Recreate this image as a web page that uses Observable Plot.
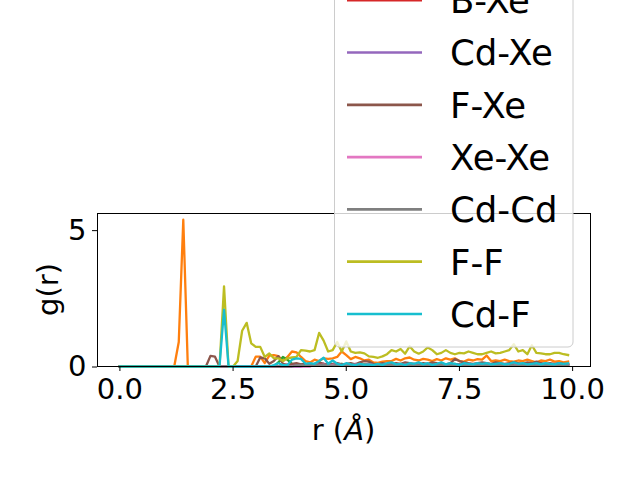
<!DOCTYPE html>
<html>
<head>
<meta charset="utf-8">
<script src="https://cdn.jsdelivr.net/npm/d3@7"></script>
<script src="https://cdn.jsdelivr.net/npm/@observablehq/plot@0.6"></script>
<style>
  html, body { margin: 0; padding: 0; background: #fff; }
  #wrap { position: relative; width: 640px; height: 480px; overflow: hidden; font-family: "DejaVu Sans", sans-serif; }
  #wrap svg { position: absolute; left: 0; top: 0; }
</style>
</head>
<body>
<div id="wrap"></div>
<script>
// ---- data ----
const labels = ["B-B", "B-F", "B-Cd", "B-Xe", "Cd-Xe", "F-Xe", "Xe-Xe", "Cd-Cd", "F-F", "Cd-F"];
const colors = ["#1f77b4", "#ff7f0e", "#2ca02c", "#d62728", "#9467bd", "#8c564b", "#e377c2", "#7f7f7f", "#bcbd22", "#17becf"];
const xTicks = [0, 2.5, 5, 7.5, 10];
const yTicks = [0, 5];

const r = [
  0.0,0.1,0.2,0.3,0.4,0.5,0.6,0.7,0.8,0.9,
  1.0,1.1,1.2,1.3,1.4,1.5,1.6,1.7,1.8,1.9,
  2.0,2.1,2.2,2.3,2.4,2.5,2.6,2.7,2.8,2.9,
  3.0,3.1,3.2,3.3,3.4,3.5,3.6,3.7,3.8,3.9,
  4.0,4.1,4.2,4.3,4.4,4.5,4.6,4.7,4.8,4.9,
  5.0,5.1,5.2,5.3,5.4,5.5,5.6,5.7,5.8,5.9,
  6.0,6.1,6.2,6.3,6.4,6.5,6.6,6.7,6.8,6.9,
  7.0,7.1,7.2,7.3,7.4,7.5,7.6,7.7,7.8,7.9,
  8.0,8.1,8.2,8.3,8.4,8.5,8.6,8.7,8.8,8.9,
  9.0,9.1,9.2,9.3,9.4,9.5,9.6,9.7,9.8,9.9
];

const gBB = [
  0,0,0,0,0,0,0,0,0,0,
  0,0,0,0,0,0,0,0,0,0,
  0,0,0,0,0,0,0,0,0,0,
  0,0,0,0,0,0,0,0,0,0,
  0,0.04,0.06,0.03,0.05,0.07,0.04,0.05,0.03,0.06,
  0.05,0.04,0.06,0.03,0.05,0.04,0.06,0.05,0.04,0.03,
  0.05,0.06,0.04,0.05,0.03,0.06,0.05,0.04,0.05,0.06,
  0.04,0.05,0.03,0.06,0.05,0.04,0.05,0.06,0.04,0.05,
  0.06,0.04,0.05,0.03,0.05,0.06,0.04,0.05,0.04,0.06,
  0.05,0.04,0.06,0.05,0.04,0.05,0.03,0.05,0.04,0.05
];
const gBF = [
  0,0,0,0,0,0,0,0,0,0,
  0,0,0,0.9,5.38,0,0,0,0,0,
  0,0,0,0,0,0,0,0,0,0,
  0.36,0.36,0.13,0.4,0.42,0.38,0.2,0.35,0.55,0.52,
  0.35,0.2,0.15,0.25,0.2,0.3,0.28,0.3,0.35,0.55,
  0.42,0.27,0.35,0.3,0.22,0.25,0.15,0.13,0.18,0.2,
  0.2,0.28,0.22,0.3,0.33,0.25,0.22,0.28,0.25,0.2,
  0.27,0.22,0.3,0.25,0.3,0.2,0.18,0.25,0.22,0.27,
  0.25,0.4,0.2,0.22,0.2,0.25,0.2,0.18,0.22,0.2,
  0.25,0.2,0.15,0.22,0.2,0.25,0.18,0.2,0.15,0.18
];
const gBCd = [
  0,0,0,0,0,0,0,0,0,0,
  0,0,0,0,0,0,0,0,0,0,
  0,0,0,0,0,0,0,0,0,0,
  0,0,0,0,0,0.15,0.35,0.25,0.1,0.05,
  0.08,0.05,0.1,0.06,0.08,0.05,0.1,0.08,0.06,0.1,
  0.07,0.05,0.09,0.06,0.08,0.1,0.05,0.07,0.09,0.06,
  0.08,0.1,0.06,0.07,0.09,0.05,0.08,0.1,0.07,0.06,
  0.09,0.07,0.05,0.08,0.1,0.06,0.08,0.07,0.09,0.06,
  0.08,0.06,0.09,0.07,0.05,0.08,0.1,0.07,0.06,0.08,
  0.07,0.09,0.06,0.08,0.07,0.05,0.08,0.06,0.09,0.07
];
const gBXe = [
  0,0,0,0,0,0,0,0,0,0,
  0,0,0,0,0,0,0,0,0,0,
  0,0,0,0,0,0,0,0,0,0,
  0,0,0,0,0,0,0,0,0.05,0.08,
  0.06,0.04,0.08,0.05,0.07,0.1,0.06,0.05,0.08,0.06,
  0.07,0.05,0.08,0.06,0.04,0.07,0.09,0.06,0.05,0.07,
  0.06,0.08,0.05,0.07,0.06,0.04,0.07,0.08,0.06,0.05,
  0.07,0.06,0.08,0.05,0.06,0.07,0.05,0.08,0.06,0.07,
  0.05,0.07,0.06,0.08,0.06,0.05,0.07,0.06,0.08,0.05,
  0.06,0.07,0.05,0.06,0.08,0.06,0.07,0.05,0.06,0.07
];
const gCdXe = [
  0,0,0,0,0,0,0,0,0,0,
  0,0,0,0,0,0,0,0,0,0,
  0,0,0,0,0,0,0,0,0,0,
  0,0,0,0,0,0,0.05,0.08,0.06,0.1,
  0.07,0.05,0.09,0.06,0.08,0.1,0.07,0.06,0.09,0.07,
  0.08,0.06,0.1,0.07,0.05,0.08,0.07,0.09,0.06,0.08,
  0.07,0.09,0.06,0.08,0.07,0.1,0.06,0.08,0.07,0.09,
  0.06,0.08,0.07,0.09,0.06,0.08,0.07,0.06,0.09,0.07,
  0.08,0.06,0.07,0.09,0.08,0.06,0.07,0.08,0.06,0.09,
  0.07,0.08,0.06,0.07,0.09,0.07,0.06,0.08,0.07,0.06
];
const gFXe = [
  0,0,0,0,0,0,0,0,0,0,
  0,0,0,0,0,0,0,0,0,0,
  0.39,0.36,0,0,0,0,0,0,0,0,
  0,0.33,0.3,0.1,0.2,0.38,0.1,0.05,0.1,0.12,
  0.08,0.1,0.05,0.1,0.15,0.1,0.08,0.1,0.12,0.08,
  0.1,0.12,0.08,0.15,0.2,0.18,0.1,0.08,0.12,0.1,
  0.08,0.12,0.1,0.15,0.12,0.1,0.08,0.12,0.1,0.15,
  0.12,0.1,0.08,0.12,0.27,0.2,0.15,0.12,0.1,0.12,
  0.15,0.12,0.1,0.15,0.12,0.1,0.12,0.15,0.12,0.1,
  0.15,0.12,0.18,0.12,0.1,0.12,0.1,0.12,0.1,0.08
];
const gXeXe = [
  0,0,0,0,0,0,0,0,0,0,
  0,0,0,0,0,0,0,0,0,0,
  0,0,0,0,0,0,0,0,0,0,
  0,0,0,0,0,0,0,0,0,0,
  0,0,0,0.1,0.05,0.07,0.04,0.06,0.08,0.05,
  0.06,0.04,0.07,0.05,0.06,0.08,0.05,0.04,0.06,0.07,
  0.05,0.06,0.04,0.07,0.05,0.06,0.08,0.05,0.06,0.04,
  0.07,0.05,0.06,0.04,0.06,0.05,0.07,0.05,0.04,0.06,
  0.05,0.07,0.05,0.06,0.04,0.06,0.05,0.07,0.05,0.06,
  0.04,0.06,0.05,0.07,0.05,0.04,0.06,0.05,0.06,0.05
];
const gCdCd = [
  0,0,0,0,0,0,0,0,0,0,
  0,0,0,0,0,0,0,0,0,0,
  0,0,0,0,0,0,0,0,0,0,
  0,0,0,0,0,0,0,0,0,0.04,
  0.06,0.03,0.05,0.07,0.04,0.06,0.05,0.03,0.06,0.05,
  0.04,0.06,0.05,0.07,0.04,0.05,0.06,0.04,0.05,0.06,
  0.05,0.04,0.06,0.05,0.07,0.04,0.05,0.06,0.05,0.04,
  0.06,0.05,0.04,0.06,0.05,0.07,0.05,0.04,0.06,0.05,
  0.04,0.06,0.05,0.04,0.06,0.05,0.07,0.05,0.04,0.06,
  0.05,0.06,0.04,0.05,0.06,0.05,0.04,0.06,0.05,0.04
];
const gFF = [
  0,0,0,0,0,0,0,0,0,0,
  0,0,0,0,0,0,0,0,0,0,
  0,0,0,2.94,0,0,0.2,1.31,1.6,0.85,
  0.72,0.72,0.35,0.48,0.3,0.3,0.2,0.3,0.33,0.35,
  0.6,0.58,0.55,0.6,1.23,0.95,0.55,0.6,0.9,0.55,
  0.92,0.55,0.5,0.52,0.48,0.37,0.35,0.32,0.37,0.45,
  0.6,0.55,0.64,0.47,0.74,0.55,0.47,0.55,0.7,0.6,
  0.45,0.5,0.6,0.5,0.45,0.5,0.48,0.55,0.5,0.45,
  0.45,0.5,0.55,0.48,0.5,0.55,0.6,0.82,0.55,0.6,
  0.45,0.78,0.5,0.48,0.45,0.45,0.5,0.5,0.45,0.42
];
const gCdF = [
  0,0,0,0,0,0,0,0,0,0,
  0,0,0,0,0,0,0,0,0,0,
  0,0,0,2.08,0,0,0,0,0,0,
  0,0,0,0,0.05,0.12,0.05,0.05,0.25,0.3,
  0.28,0.1,0.12,0.1,0.2,0.32,0.1,0.22,0.1,0.05,
  0.12,0.08,0.05,0.1,0.06,0.08,0.05,0.1,0.06,0.12,
  0.15,0.08,0.1,0.05,0.12,0.1,0.15,0.08,0.12,0.06,
  0.1,0.15,0.08,0.12,0.1,0.05,0.12,0.1,0.08,0.12,
  0.1,0.12,0.08,0.1,0.12,0.08,0.1,0.15,0.1,0.12,
  0.08,0.1,0.12,0.08,0.12,0.1,0.08,0.12,0.1,0.12
];

const series = [gBB, gBF, gBCd, gBXe, gCdXe, gFXe, gXeXe, gCdCd, gFF, gCdF];

// long-format table built from the arrays above
const rows = [];
series.forEach((vals, k) => {
  vals.forEach((v, i) => rows.push({r: r[i], g: v, pair: labels[k]}));
});

const FS = 29;
const chart = Plot.plot({
  width: 640,
  height: 480,
  marginLeft: 97,
  marginRight: 50,
  marginTop: 213,
  marginBottom: 114,
  style: {fontFamily: "DejaVu Sans, sans-serif", fontSize: FS + "px", color: "#000", background: "transparent", overflow: "visible"},
  x: {domain: [-0.495, 10.395], label: null},
  y: {domain: [0, 5.61], label: null},
  color: {domain: labels, range: colors},
  marks: [
    Plot.line(rows, {x: "r", y: "g", z: "pair", stroke: "pair", strokeWidth: 2.3, strokeLinejoin: "round", strokeLinecap: "square"}),
    Plot.frame({stroke: "#000", strokeWidth: 1}),
    Plot.axisX({ticks: xTicks, tickFormat: d3.format(".1f"), tickSize: 5, tickPadding: 7, stroke: "#000", fill: "#000", fontSize: FS, label: null}),
    Plot.axisY({ticks: yTicks, tickFormat: d3.format("d"), tickSize: 5, tickPadding: 6, dy: 0.5, stroke: "#000", fill: "#000", fontSize: FS, label: null})
  ]
});
document.getElementById("wrap").appendChild(chart);

// axis titles
const svg = d3.select(chart);
const xl = svg.append("text")
  .attr("x", 343.5).attr("y", 440)
  .attr("text-anchor", "middle")
  .attr("font-size", FS).attr("fill", "#000");
xl.append("tspan").text("r (");
xl.append("tspan").attr("font-style", "italic").text("Å");
xl.append("tspan").text(")");

svg.append("text")
  .attr("transform", "translate(58,289.5) rotate(-90)")
  .attr("text-anchor", "middle")
  .attr("font-size", FS).attr("fill", "#000")
  .text("g(r)");

// legend overlay (matplotlib-style, overflowing the top of the figure)
const legend = d3.select("#wrap").append("svg")
  .attr("width", 640).attr("height", 480)
  .style("overflow", "hidden")
  .style("font-family", "DejaVu Sans, sans-serif");
const step = 52.3, lastY = 314, n = labels.length;
const boxTop = lastY - (n - 1) * step - 33;
legend.append("rect")
  .attr("x", 334.5).attr("y", boxTop).attr("width", 238.5).attr("height", 347 - boxTop)
  .attr("rx", 5).attr("fill", "rgba(255,255,255,0.8)").attr("stroke", "#cccccc").attr("stroke-width", 1);
labels.forEach((lab, i) => {
  const cy = lastY - (n - 1 - i) * step;
  legend.append("line").attr("x1", 347).attr("x2", 422).attr("y1", cy).attr("y2", cy)
    .attr("stroke", colors[i]).attr("stroke-width", 2.7);
  legend.append("text").attr("x", 450).attr("y", cy + 0.3645 * 35.5)
    .attr("font-size", 35.5).attr("fill", "#000").text(lab);
});
</script>
</body>
</html>
